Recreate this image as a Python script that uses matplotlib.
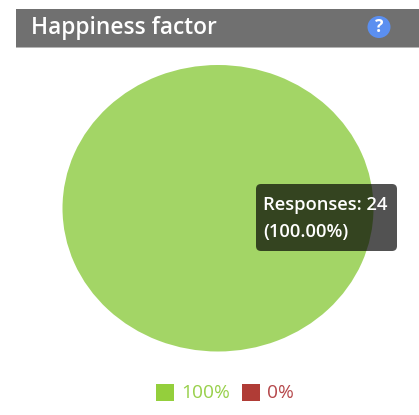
import matplotlib
matplotlib.use('Agg')
import matplotlib.pyplot as plt
from matplotlib.patches import Rectangle, FancyBboxPatch, Ellipse

plt.rcParams['font.family'] = ['Open Sans', 'DejaVu Sans']

title = 'Happiness factor'
labels = ['100%', '0%']
values = [24, 0]
colors = ['#a3d566', '#b03c36']
legend_colors = ['#94cf3c', '#b03c36']
legend_text = ['#98d04a', '#b5474a']
tooltip = 'Responses: 24\n(100.00%)'

W, H = 419, 415
fig = plt.figure(figsize=(W / 100, H / 100), dpi=100)

# pie is squashed a bit in the original, so no equal aspect
ax = fig.add_axes([62.5 / W, 1 - 351.5 / H, 311 / W, 286.5 / H])
ax.pie(values, colors=colors, startangle=90, counterclock=False, radius=1)
ax.set_aspect('auto')
ax.set_xlim(-1, 1)
ax.set_ylim(-1, 1)

# overlay in pixel coords for header, tooltip, legend
ov = fig.add_axes([0, 0, 1, 1])
ov.set_xlim(0, W)
ov.set_ylim(H, 0)
ov.axis('off')
ov.patch.set_alpha(0)

ov.add_patch(Rectangle((16, 9), 403, 38, fc='#707070', ec='none'))
ov.add_patch(Rectangle((16, 47), 403, 1.2, fc='#b5b5b5', ec='none'))
ov.text(31, 27.5, title, color='white', fontsize=16.4, va='center', ha='left', fontweight='semibold')
ov.add_patch(Ellipse((379, 27), 23, 22, fc='#5b8ff0', ec='none'))
ov.text(379, 27, '?', color='white', fontsize=12.5, fontweight='bold', ha='center', va='center')

ov.add_patch(FancyBboxPatch((256, 184), 141, 67, boxstyle='round,pad=0,rounding_size=5',
                            fc='#000000', ec='none', alpha=0.68))
ov.text(263, 205, tooltip.split('\n')[0], color='white', fontsize=13.2, va='center', ha='left', fontweight='semibold')
ov.text(263, 232, tooltip.split('\n')[1], color='white', fontsize=13.2, va='center', ha='left', fontweight='semibold')

ov.add_patch(Rectangle((155.5, 384), 18, 16.5, fc=legend_colors[0], ec='none'))
ov.text(181, 393, labels[0], color=legend_text[0], fontsize=13.8, va='center', ha='left')
ov.add_patch(Rectangle((242, 384), 18, 16.5, fc=legend_colors[1], ec='none'))
ov.text(267, 393, labels[1], color=legend_text[1], fontsize=13.8, va='center', ha='left')

fig.savefig('out.png', dpi=100)
